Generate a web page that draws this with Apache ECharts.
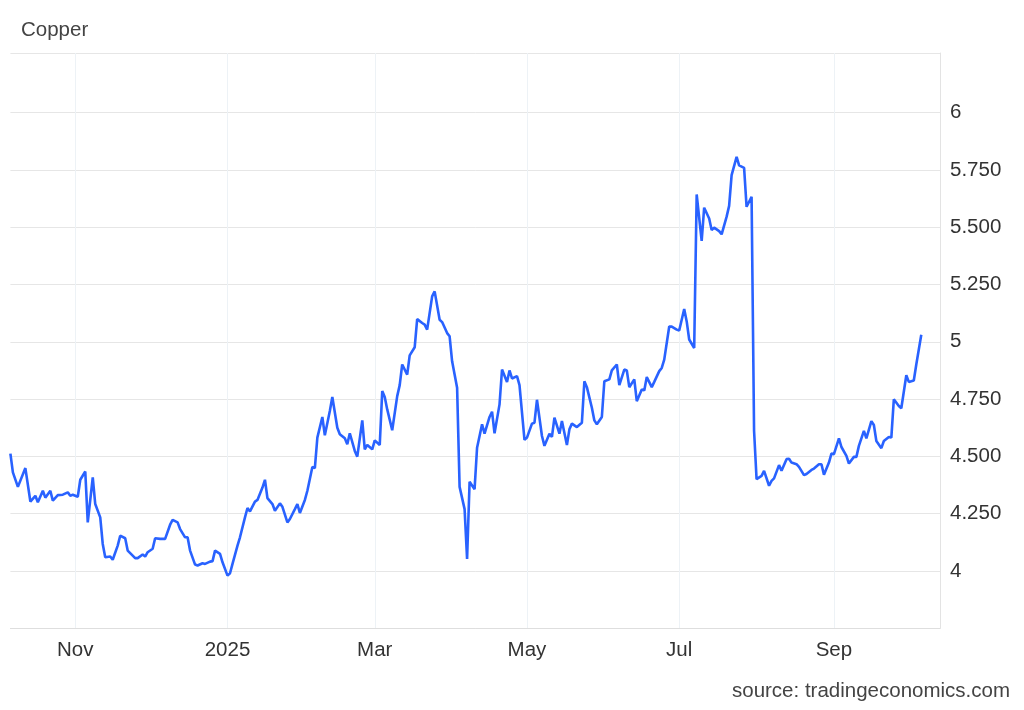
<!DOCTYPE html>
<html>
<head>
<meta charset="utf-8">
<script src="https://cdn.jsdelivr.net/npm/echarts@6/dist/echarts.min.js"></script>
<style>
html,body{margin:0;padding:0;background:#fff;}
#chart{width:1024px;height:710px;}
</style>
</head>
<body>
<div id="chart"></div>
<script>
const chartTitle = 'Copper';
const sourceText = 'source: tradingeconomics.com';

const dates = [
'2024-10-06','2024-10-07','2024-10-09','2024-10-12','2024-10-14','2024-10-16','2024-10-17','2024-10-19','2024-10-20','2024-10-22',
'2024-10-23','2024-10-25','2024-10-27','2024-10-29','2024-10-30','2024-10-31','2024-11-02','2024-11-03','2024-11-05','2024-11-06',
'2024-11-08','2024-11-09','2024-11-11','2024-11-12','2024-11-13','2024-11-15','2024-11-16','2024-11-18','2024-11-19','2024-11-21',
'2024-11-22','2024-11-24','2024-11-25','2024-11-26','2024-11-28','2024-11-29','2024-11-30','2024-12-02','2024-12-03','2024-12-05',
'2024-12-07','2024-12-09','2024-12-10','2024-12-12','2024-12-13','2024-12-15','2024-12-16','2024-12-17','2024-12-19','2024-12-20',
'2024-12-22','2024-12-23','2024-12-25','2024-12-26','2024-12-27','2024-12-29','2024-12-30','2025-01-01','2025-01-02','2025-01-03',
'2025-01-05','2025-01-06','2025-01-08','2025-01-09','2025-01-10','2025-01-12','2025-01-13','2025-01-15','2025-01-16','2025-01-17',
'2025-01-19','2025-01-20','2025-01-22','2025-01-23','2025-01-25','2025-01-26','2025-01-28','2025-01-29','2025-01-30','2025-02-01',
'2025-02-02','2025-02-04','2025-02-05','2025-02-06','2025-02-08','2025-02-09','2025-02-11','2025-02-12','2025-02-14','2025-02-15',
'2025-02-17','2025-02-18','2025-02-19','2025-02-21','2025-02-22','2025-02-24','2025-02-25','2025-02-26','2025-02-28','2025-03-01',
'2025-03-03','2025-03-04','2025-03-05','2025-03-06','2025-03-08','2025-03-10','2025-03-11','2025-03-12','2025-03-14','2025-03-15',
'2025-03-17','2025-03-18','2025-03-20','2025-03-21','2025-03-22','2025-03-24','2025-03-25','2025-03-27','2025-03-28','2025-03-30',
'2025-03-31','2025-04-01','2025-04-03','2025-04-04','2025-04-06','2025-04-07','2025-04-08','2025-04-10','2025-04-11','2025-04-13',
'2025-04-14','2025-04-16','2025-04-17','2025-04-18','2025-04-20','2025-04-21','2025-04-23','2025-04-24','2025-04-25','2025-04-27',
'2025-04-28','2025-04-30','2025-05-01','2025-05-03','2025-05-04','2025-05-05','2025-05-07','2025-05-08','2025-05-10','2025-05-11',
'2025-05-12','2025-05-14','2025-05-15','2025-05-17','2025-05-18','2025-05-19','2025-05-21','2025-05-23','2025-05-24','2025-05-25',
'2025-05-27','2025-05-28','2025-05-29','2025-05-31','2025-06-01','2025-06-03','2025-06-04','2025-06-06','2025-06-07','2025-06-09',
'2025-06-10','2025-06-11','2025-06-13','2025-06-14','2025-06-16','2025-06-17','2025-06-18','2025-06-20','2025-06-21','2025-06-23',
'2025-06-24','2025-06-25','2025-06-27','2025-06-28','2025-06-30','2025-07-01','2025-07-03','2025-07-04','2025-07-05','2025-07-07',
'2025-07-08','2025-07-10','2025-07-11','2025-07-13','2025-07-14','2025-07-15','2025-07-17','2025-07-18','2025-07-20','2025-07-21',
'2025-07-22','2025-07-24','2025-07-25','2025-07-27','2025-07-28','2025-07-30','2025-07-31','2025-08-01','2025-08-03','2025-08-04',
'2025-08-06','2025-08-07','2025-08-08','2025-08-10','2025-08-11','2025-08-13','2025-08-14','2025-08-15','2025-08-17','2025-08-18',
'2025-08-20','2025-08-21','2025-08-23','2025-08-24','2025-08-26','2025-08-27','2025-08-28','2025-08-30','2025-08-31','2025-09-01',
'2025-09-03','2025-09-04','2025-09-06','2025-09-07','2025-09-09','2025-09-10','2025-09-11','2025-09-13','2025-09-14','2025-09-16',
'2025-09-17','2025-09-18','2025-09-20','2025-09-21','2025-09-23','2025-09-24','2025-09-25','2025-09-27','2025-09-28','2025-09-30',
'2025-10-01','2025-10-03','2025-10-04','2025-10-06'
];

const prices = [
4.512,4.430,4.367,4.449,4.303,4.328,4.300,4.350,4.320,4.350,
4.307,4.331,4.333,4.343,4.328,4.333,4.324,4.398,4.434,4.212,
4.408,4.292,4.234,4.118,4.060,4.063,4.049,4.111,4.154,4.143,
4.089,4.067,4.056,4.056,4.072,4.063,4.082,4.097,4.143,4.140,
4.140,4.202,4.223,4.212,4.183,4.147,4.147,4.089,4.028,4.024,
4.034,4.031,4.041,4.043,4.089,4.075,4.038,3.980,3.990,4.031,
4.111,4.147,4.234,4.275,4.260,4.303,4.310,4.364,4.398,4.318,
4.292,4.263,4.295,4.280,4.212,4.227,4.270,4.292,4.253,4.310,
4.350,4.454,4.449,4.582,4.672,4.592,4.698,4.759,4.625,4.597,
4.579,4.553,4.601,4.524,4.499,4.657,4.531,4.550,4.531,4.570,
4.550,4.785,4.759,4.705,4.614,4.763,4.811,4.901,4.857,4.941,
4.976,5.099,5.082,5.075,5.053,5.198,5.220,5.096,5.086,5.038,
5.024,4.915,4.800,4.367,4.270,4.053,4.389,4.357,4.538,4.640,
4.599,4.672,4.695,4.601,4.727,4.879,4.825,4.875,4.840,4.850,
4.811,4.572,4.582,4.643,4.647,4.747,4.589,4.546,4.599,4.585,
4.669,4.599,4.654,4.550,4.618,4.643,4.628,4.647,4.828,4.802,
4.712,4.657,4.640,4.672,4.828,4.836,4.875,4.901,4.811,4.879,
4.875,4.802,4.836,4.741,4.792,4.788,4.846,4.802,4.825,4.872,
4.886,4.922,5.067,5.066,5.053,5.049,5.143,5.089,5.010,4.973,
5.643,5.440,5.585,5.538,5.488,5.498,5.483,5.469,5.546,5.593,
5.727,5.807,5.770,5.759,5.589,5.633,4.611,4.401,4.415,4.437,
4.372,4.393,4.404,4.462,4.437,4.488,4.490,4.473,4.466,4.454,
4.418,4.423,4.441,4.447,4.466,4.466,4.420,4.473,4.512,4.510,
4.579,4.541,4.502,4.469,4.498,4.498,4.546,4.611,4.579,4.654,
4.637,4.567,4.536,4.567,4.585,4.582,4.749,4.720,4.710,4.854,
4.825,4.831,4.901,5.031
];

const xTickDates = ['2024-11-01','2025-01-01','2025-03-01','2025-05-01','2025-07-01','2025-09-01'];
const monthNames = ['Jan','Feb','Mar','Apr','May','Jun','Jul','Aug','Sep','Oct','Nov','Dec'];
const yMin = 3.75, yMax = 6.26;
const yLabelValues = [4, 4.25, 4.5, 4.75, 5, 5.25, 5.5, 5.75, 6];
const yGridValues = [3.75, 4, 4.25, 4.5, 4.75, 5, 5.25, 5.5, 5.75, 6, 6.26];

function parseLocal(s) {
  const p = s.split('-').map(Number);
  return new Date(p[0], p[1] - 1, p[2]).getTime();
}
const xMin = parseLocal('2024-10-06');
const xMax = parseLocal('2025-10-13') + 12 * 3600 * 1000;
const tickVals = xTickDates.map(parseLocal);
const seriesData = dates.map((d, i) => [parseLocal(d), prices[i]]);

const FONT = 'Liberation Sans, Arial, sans-serif';
const FS = 20.5;
const chart = echarts.init(document.getElementById('chart'), null, {renderer: 'canvas'});
chart.setOption({
  animation: false,
  backgroundColor: '#ffffff',
  title: {
    text: chartTitle, left: 16, top: 15,
    textStyle: {fontSize: FS, fontWeight: 'normal', color: '#444', fontFamily: FONT}
  },
  graphic: [{
    type: 'text', right: 14, top: 681,
    style: {text: sourceText, fontSize: FS, fill: '#444', fontFamily: FONT}
  }],
  grid: {left: 10.4, right: 84, top: 53, bottom: 81.7, containLabel: false},
  xAxis: {
    type: 'value', min: xMin, max: xMax, scale: true,
    axisLine: {show: true, lineStyle: {color: '#dedede', width: 1}},
    axisTick: {show: false, customValues: tickVals},
    axisLabel: {
      customValues: tickVals, margin: 12, fontSize: FS, color: '#333', fontFamily: FONT,
      formatter: function (v) {
        const d = new Date(v);
        return d.getMonth() === 0 ? String(d.getFullYear()) : monthNames[d.getMonth()];
      }
    },
    splitLine: {show: true, lineStyle: {color: '#edf2f6', width: 1}}
  },
  yAxis: {
    type: 'value', position: 'right', min: yMin, max: yMax, scale: true,
    axisLine: {show: true, lineStyle: {color: '#e3e3e3', width: 1}},
    axisTick: {show: false, customValues: yGridValues},
    axisLabel: {
      customValues: yLabelValues,
      margin: 10, fontSize: FS, color: '#333', fontFamily: FONT,
      formatter: function (v) {
        return Math.abs(v - Math.round(v)) < 1e-9 ? String(Math.round(v)) : v.toFixed(3);
      }
    },
    splitLine: {show: true, lineStyle: {color: '#e6e6e6', width: 1}}
  },
  series: [{
    type: 'line', data: seriesData, showSymbol: false, smooth: false,
    lineStyle: {color: '#2962ff', width: 2.6},
    itemStyle: {color: '#2962ff'}
  }]
});
</script>
</body>
</html>
